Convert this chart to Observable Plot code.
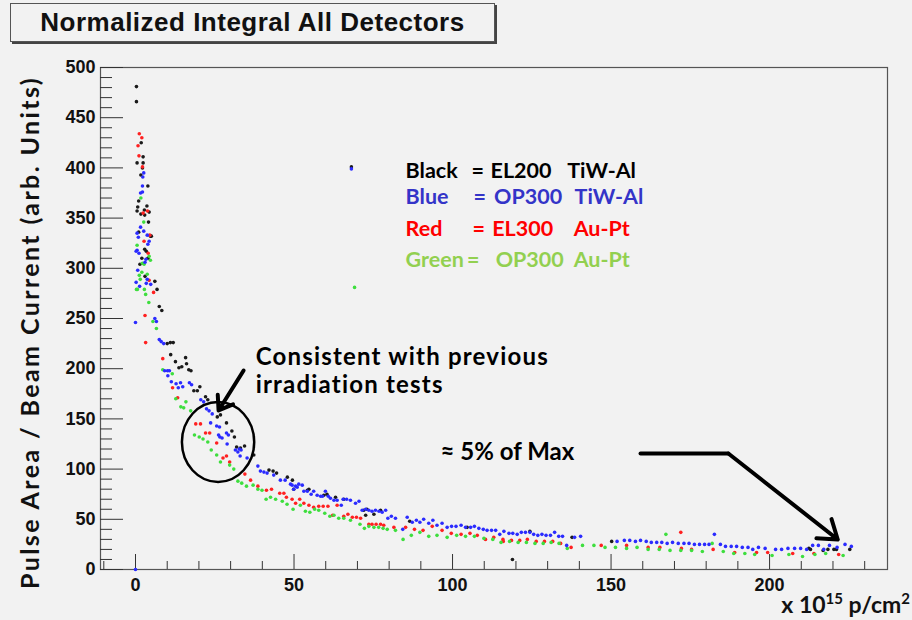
<!DOCTYPE html>
<html>
<head>
<meta charset="utf-8">
<script src="https://cdn.jsdelivr.net/npm/d3@7"></script>
<script src="https://cdn.jsdelivr.net/npm/@observablehq/plot@0.6"></script>
<style>
  html, body { margin: 0; padding: 0; background: #f2f2f2; }
  #wrap { position: relative; width: 912px; height: 620px; background: #f2f2f2; overflow: hidden; }
  #chart { position: absolute; left: 0; top: 0; }
  #title {
    position: absolute; left: 10px; top: 3px; width: 483px; height: 37px;
    border: 1px solid #555; box-shadow: 2px 2px 0 #444; background: #f2f2f2;
    font-family: "Liberation Sans", Arial, sans-serif; font-weight: bold; font-size: 26px;
    letter-spacing: 0.5px; line-height: 37px; text-align: center; color: #111; z-index: 2;
  }
</style>
</head>
<body>
<div id="wrap">
  <div id="title">Normalized Integral All Detectors</div>
  <div id="chart"></div>
</div>
<script>
// ---------------- data (x in 10^15 p/cm^2, y in arb. units) ----------------
const black = [[0.3,481],[0.3,466],[1.8,425],[2.4,411],[0.5,405],[2.4,405],[2.2,400],[1.7,393],[3.9,382],[1.0,367],[0.7,361],[3.6,362],[2.8,358],[0.5,357],[1.7,354],[2.9,353],[4.3,356],[4.1,346],[1.0,336],[4.7,332],[5.0,332],[2.9,319],[3.4,317],[2.0,310],[3.9,310],[1.4,304],[3.0,292],[6.1,287],[6.8,279],[7.5,262],[8.3,258],[10.0,225],[11.0,226],[11.9,226],[11.1,214],[12.6,207],[15.8,211],[16.1,205],[13.7,201],[14.6,202],[16.8,199],[17.5,198],[18.4,178],[19.5,178],[20.3,182],[22.1,172],[22.8,169],[25.8,152],[26.8,154],[28.7,146],[30.4,138],[31.2,132],[31.9,122],[33.1,121],[34.4,123],[37.3,114],[42.1,99],[43.4,98],[44.5,96],[47.9,92],[49.5,89],[49.9,80],[54.2,79],[54.7,80],[59.4,74],[60.4,75],[63.1,72],[65.7,70],[68.1,401],[72.0,59],[72.6,54],[73.0,60],[75.2,55],[77.3,59],[86.5,48],[104.6,42],[118.9,10],[124.4,38],[137.7,32],[150.2,28],[212.4,21],[212.9,20],[216.9,19],[218.4,20],[220.3,20],[221.1,20],[225.3,20]];

const red = [[1.2,434],[2.0,430],[0.8,422],[1.1,412],[2.2,401],[3.8,357],[2.4,355],[4.5,333],[2.7,327],[4.0,315],[4.3,288],[5.7,276],[3.0,253],[3.2,226],[8.6,210],[11.7,181],[13.3,171],[19.0,145],[20.5,145],[22.1,136],[23.4,136],[25.6,126],[27.6,111],[28.7,113],[29.7,107],[34.5,95],[36.3,89],[38.6,83],[41.3,79],[42.9,80],[45.5,76],[46.8,76],[47.6,72],[49.4,70],[50.5,66],[51.8,70],[53.1,66],[54.7,64],[56.2,62],[57.8,63],[59.2,63],[60.7,63],[62.2,54],[63.6,64],[65.7,53],[67.0,55],[68.4,52],[69.7,52],[71.0,51],[73.6,45],[74.6,45],[75.9,45],[77.3,45],[78.3,44],[81.5,42],[85.2,42],[88.0,40],[90.7,39],[93.6,43],[96.7,39],[99.6,36],[102.7,35],[105.5,36],[107.8,34],[110.4,30],[113.0,32],[115.9,30],[116.0,28],[118.6,29],[121.2,29],[123.6,30],[126.4,28],[129.0,28],[131.6,28],[134.1,26],[137.4,22],[146.9,24],[154.9,24],[161.7,22],[165.4,22],[172.0,37],[172.2,21],[175.4,20],[182.2,20],[189.0,17],[195.9,17],[199.4,17],[207.3,16],[214.0,16],[221.8,15]];

const green = [[1.7,370],[2.6,346],[0.5,323],[4.3,312],[4.7,308],[2.2,305],[2.7,304],[2.0,296],[3.7,294],[1.2,293],[1.5,289],[0.3,279],[0.6,279],[2.8,279],[3.2,274],[4.2,266],[5.5,247],[6.6,240],[8.6,199],[11.6,195],[12.7,170],[14.3,162],[15.2,161],[15.9,167],[17.4,158],[18.6,134],[20.1,132],[21.3,130],[22.8,127],[23.9,119],[25.6,114],[26.8,107],[29.7,104],[31.0,100],[32.3,88],[33.5,86],[35.0,83],[37.1,84],[38.6,80],[39.9,79],[41.2,70],[42.6,72],[44.2,70],[46.3,68],[47.8,65],[49.7,60],[52.0,64],[53.6,58],[55.0,57],[56.5,60],[57.8,59],[59.7,56],[61.3,53],[62.6,54],[64.1,51],[65.7,51],[67.8,49],[69.1,281],[70.8,45],[72.2,41],[73.6,43],[75.2,42],[76.7,42],[78.1,41],[79.4,40],[82.0,39],[84.4,30],[87.0,34],[89.7,37],[92.5,33],[95.1,34],[98.3,32],[101.3,34],[104.1,33],[106.9,33],[109.9,31],[112.7,30],[115.3,27],[118.0,28],[120.7,27],[123.3,27],[126.0,26],[128.6,26],[131.1,27],[133.6,26],[136.2,21],[141.0,24],[144.6,24],[148.1,22],[151.4,22],[154.9,21],[158.2,22],[161.7,20],[165.2,20],[167.3,35],[168.6,19],[172.0,19],[175.4,19],[178.8,18],[181.9,26],[185.4,18],[188.7,16],[192.2,16],[195.3,15],[200.8,14],[206.1,15],[210.4,13],[214.3,15],[217.7,16],[223.2,14]];

const blue = [[0,0],[0,246],[2.6,395],[2.3,391],[2.2,382],[2.2,376],[1.6,375],[1.6,341],[2.6,337],[0.5,335],[3.7,333],[0.9,331],[4.3,327],[3.9,324],[0.5,318],[0.2,317],[1.1,315],[3.3,309],[3.0,306],[0.7,298],[3.7,289],[0.2,286],[3.4,285],[4.8,284],[1.3,282],[6.1,250],[6.6,247],[7.5,229],[8.1,227],[8.9,225],[9.2,198],[10.1,198],[10.7,198],[10.2,193],[11.3,187],[12.8,185],[13.5,181],[14.2,186],[14.9,182],[17.0,186],[17.7,184],[20.6,169],[21.5,167],[22.4,160],[23.2,158],[24.2,155],[23.7,146],[25.6,143],[26.5,142],[26.2,134],[26.6,132],[27.3,131],[28.7,136],[29.3,134],[28.9,125],[31.5,119],[32.3,117],[32.7,120],[33.3,119],[33.0,113],[35.2,111],[38.6,103],[39.4,98],[40.5,97],[41.5,96],[43.6,94],[45.7,89],[47.2,89],[48.9,85],[49.9,80],[51.0,82],[49.4,84],[50.5,83],[51.5,85],[52.6,84],[53.1,78],[54.2,78],[55.4,75],[56.2,78],[57.3,74],[58.4,73],[59.0,73],[59.9,78],[60.8,73],[61.5,71],[62.6,69],[63.6,69],[64.9,64],[65.5,70],[66.6,70],[67.8,69],[68.1,399],[69.4,66],[70.5,68],[71.5,59],[72.6,60],[73.6,59],[74.6,58],[75.7,59],[76.8,58],[77.8,57],[78.9,59],[79.6,51],[80.7,53],[82.0,51],[84.3,40],[85.7,52],[87.3,47],[88.6,49],[89.7,47],[90.9,50],[92.5,46],[93.8,49],[95.1,44],[96.7,46],[98.3,42],[99.7,43],[101.1,43],[102.7,44],[104.1,42],[105.7,42],[106.9,43],[108.3,41],[109.7,40],[110.9,39],[112.3,39],[113.6,39],[114.9,35],[116.2,38],[117.8,36],[119.0,36],[120.4,35],[121.7,37],[123.0,37],[124.4,37],[125.6,35],[126.9,34],[128.2,35],[129.5,34],[130.9,34],[132.2,37],[133.5,33],[134.7,33],[136.0,24],[138.5,32],[140.4,33],[151.9,28],[154.2,29],[155.9,29],[157.7,28],[159.3,29],[161.1,28],[162.7,27],[164.4,27],[166.0,27],[167.7,26],[169.4,27],[171.2,26],[173.0,26],[174.6,26],[176.3,25],[177.9,25],[179.5,25],[180.9,25],[182.6,35],[184.5,25],[186.1,23],[187.9,23],[189.6,23],[191.4,22],[193.2,22],[194.7,20],[196.5,22],[198.6,21],[201.9,20],[203.8,20],[205.8,21],[207.9,21],[209.8,21],[211.7,20],[213.6,24],[215.4,24],[217.1,20],[218.9,24],[221.3,22],[223.8,25],[225.8,23]];

const xTicks = [0, 50, 100, 150, 200];
const yTicks = [0, 50, 100, 150, 200, 250, 300, 350, 400, 450, 500];
const xMinor = [-10,10,20,30,40,60,70,80,90,110,120,130,140,160,170,180,190,210,220,230];
const yMinor = [10,20,30,40,60,70,80,90,110,120,130,140,160,170,180,190,210,220,230,240,260,270,280,290,310,320,330,340,360,370,380,390,410,420,430,440,460,470,480,490];

const legendNames  = ["Black", "Blue", "Red", "Green"];
const legendModels = ["EL200", "OP300", "EL300", "OP300"];
const legendMetals = ["TiW-Al", "TiW-Al", "Au-Pt", "Au-Pt"];
const yLabel = "Pulse Area / Beam Current (arb. Units)";
const note1 = ["Consistent with previous", "irradiation tests"];
const note2 = "\u2248 5% of Max";

// ---------------- layout ----------------
const W = 912, H = 620, mL = 100, mR = 25, mT = 67, mB = 51;
const plotW = W - mL - mR, plotH = H - mT - mB;
const colors = {black: "#1a1a1a", blue: "#2b2bff", red: "#ff2020", green: "#3ede3e"};
const textColors = ["#000000", "#3434c8", "#ff0000", "#92d050"];
const annoFont = "Lato, 'Open Sans', sans-serif";

// annotation placement (data coordinates)
const legendRowY = [397, 370.5, 339.5, 308];
const legendNameX = 85.2;
const legendEqX = [106.0, 106.6, 106.3, 104.6];
const legendModelX = [112.0, 113.1, 112.5, 113.6];
const legendMetalX = [136.2, 138.5, 138.2, 138.2];
const legendRows = legendNames.map((n, i) => ({
  name: n, model: legendModels[i], metal: legendMetals[i], color: textColors[i],
  y: legendRowY[i], xe: legendEqX[i], xm: legendModelX[i], xt: legendMetalX[i]
}));
const noteRows = note1.map((t, i) => ({t, x: 37.9, y: [211.5, 183.5][i]}));

const dots = (arr, c) => Plot.dot(arr, {x: d => d[0], y: d => d[1], r: 1.8, fill: c, stroke: "none"});
const legendText = (text, x) => Plot.text(legendRows, {x, y: "y", text, fill: "color", textAnchor: "start", fontFamily: annoFont, fontWeight: "bold", fontSize: 21.5});

const chart = Plot.plot({
  width: W, height: H,
  marginLeft: mL, marginRight: mR, marginTop: mT, marginBottom: mB,
  x: {domain: [-11.04, 237.2]},
  y: {domain: [0, 500]},
  style: {background: "transparent", fontFamily: "'Liberation Sans', Arial, sans-serif", fontWeight: "bold", fontSize: "18px", color: "#111"},
  marks: [
    Plot.frame({stroke: "#555", strokeWidth: 1.2}),
    Plot.tickY(yMinor, {y: d => d, insetRight: plotW - 12, stroke: "#333"}),
    Plot.tickY(yTicks, {y: d => d, insetRight: plotW - 23, stroke: "#333"}),
    Plot.tickX(xMinor, {x: d => d, insetTop: plotH - 8, stroke: "#333"}),
    Plot.tickX(xTicks, {x: d => d, insetTop: plotH - 15, stroke: "#333"}),
    Plot.axisY(yTicks, {tickSize: 0, tickPadding: 5, label: null, fontSize: 18, fontWeight: "bold"}),
    Plot.axisX(xTicks, {tickSize: 0, tickPadding: 9, label: null, fontSize: 18, fontWeight: "bold"}),
    Plot.text([yLabel], {frameAnchor: "left", textAnchor: "middle", rotate: -90, dx: -70, dy: 14, fontFamily: annoFont, fontWeight: "bold", fontSize: 25, fill: "#111"}),
    dots(black, colors.black),
    dots(red, colors.red),
    dots(green, colors.green),
    dots(blue, colors.blue),
    // legend text block
    legendText("name", legendNameX),
    legendText(d => "=", "xe"),
    legendText("model", "xm"),
    legendText("metal", "xt"),
    // notes
    Plot.text(noteRows, {x: "x", y: "y", text: "t", textAnchor: "start", fontFamily: annoFont, fontWeight: "bold", fontSize: 24, fill: "#000"}),
    Plot.text([note2], {x: 96.2, y: 116.5, textAnchor: "start", fontFamily: annoFont, fontWeight: "bold", fontSize: 24, fill: "#000"}),
    Plot.arrow([{x1: 34.1, y1: 198.2, x2: 26.2, y2: 158.4}], {x1: "x1", y1: "y1", x2: "x2", y2: "y2", stroke: "#000", strokeWidth: 4, headLength: 8, headAngle: 70}),
    Plot.line([[159.3, 115.5], [187.0, 115.5]], {x: d => d[0], y: d => d[1], stroke: "#000", strokeWidth: 4}),
    Plot.arrow([{x1: 187.0, y1: 115.5, x2: 221.5, y2: 29.9}], {x1: "x1", y1: "y1", x2: "x2", y2: "y2", stroke: "#000", strokeWidth: 4, headLength: 8, headAngle: 70})
  ]
});

const svg = d3.select(chart);
// widen the annotation lettering a little, as in the reference
svg.selectAll("text").filter(function() { return note1.includes(this.textContent); }).style("letter-spacing", "1.2px");
svg.selectAll("text").filter(function() { return this.textContent === yLabel; }).style("letter-spacing", "2.4px");

// ellipse around the region of interest, placed through the chart's scales
const sx = chart.scale("x"), sy = chart.scale("y");
const ell = {cx: 26.2, cy: 126.5, rx: 11.4, ry: 39.8};
svg.append("ellipse")
  .attr("cx", sx.apply(ell.cx)).attr("cy", sy.apply(ell.cy))
  .attr("rx", sx.apply(ell.cx + ell.rx) - sx.apply(ell.cx))
  .attr("ry", sy.apply(ell.cy - ell.ry) - sy.apply(ell.cy))
  .attr("fill", "none").attr("stroke", "#000").attr("stroke-width", 2.5);

// x-axis title with superscripts
const xl = svg.append("text")
  .attr("x", W - 2).attr("y", H - 7).attr("text-anchor", "end")
  .attr("font-family", annoFont).attr("font-weight", "bold")
  .attr("font-size", 23).attr("fill", "#111");
xl.append("tspan").text("x 10");
xl.append("tspan").attr("dy", -9).attr("font-size", 15).text("15");
xl.append("tspan").attr("dy", 9).text(" p/cm");
xl.append("tspan").attr("dy", -9).attr("font-size", 15).text("2");

document.getElementById("chart").appendChild(chart);
</script>
</body>
</html>
